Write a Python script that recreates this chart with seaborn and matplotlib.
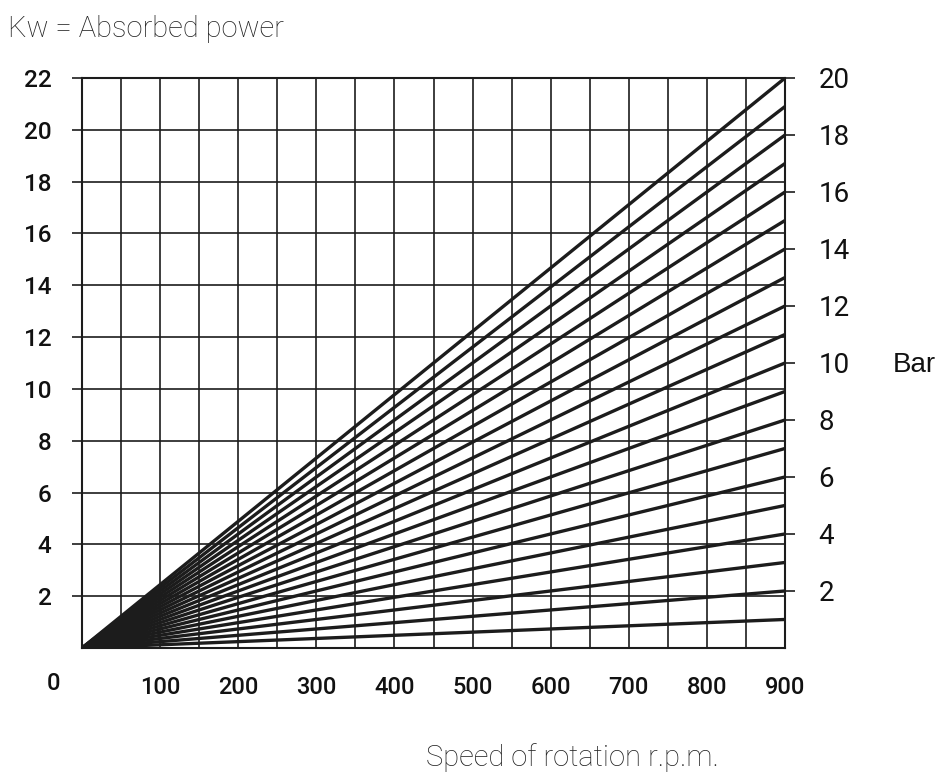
import pandas as pd
import matplotlib.pyplot as plt
import seaborn as sns

sns.set_style("white")
plt.rcParams['font.family'] = ['Roboto', 'Liberation Sans', 'DejaVu Sans']

# Data
rpm_range = [0, 900]
bar_levels = [1, 2, 3, 4, 5, 6, 7, 8, 9, 10, 11, 12, 13, 14, 15, 16, 17, 18, 19, 20]
kw_at_900 = [1.1, 2.2, 3.3, 4.4, 5.5, 6.6, 7.7, 8.8, 9.9, 11.0,
             12.1, 13.2, 14.3, 15.4, 16.5, 17.6, 18.7, 19.8, 20.9, 22.0]
kw_ticks = [2, 4, 6, 8, 10, 12, 14, 16, 18, 20, 22]
rpm_ticks = [100, 200, 300, 400, 500, 600, 700, 800, 900]
bar_labels = [2, 4, 6, 8, 10, 12, 14, 16, 18, 20]
bar_label_kw = [2.2, 4.4, 6.6, 8.8, 11.0, 13.2, 15.4, 17.6, 19.8, 22.0]

rows = []
for b, kw in zip(bar_levels, kw_at_900):
    rows.append({'bar': b, 'rpm': rpm_range[0], 'kw': 0.0})
    rows.append({'bar': b, 'rpm': rpm_range[1], 'kw': kw})
df = pd.DataFrame(rows)

ink = '#1c1c1c'
fig = plt.figure(figsize=(9.43, 7.76), dpi=100)
ax = fig.add_axes([0.087, 0.165, 0.7455, 0.7345])

sns.lineplot(data=df, x='rpm', y='kw', units='bar', estimator=None,
             color=ink, lw=2.4, ax=ax, legend=False)

ax.set_xlim(0, 900)
ax.set_ylim(0, 22)

# grid every 50 rpm and every 2 kW
ax.set_xticks(rpm_ticks)
ax.set_xticklabels([str(t) for t in rpm_ticks])
ax.set_xticks(range(50, 900, 100), minor=True)
ax.set_yticks(kw_ticks)
ax.set_yticklabels([str(t) for t in kw_ticks])
ax.grid(True, which='both', color=ink, lw=1.2)
ax.tick_params(axis='x', which='major', direction='out', length=7, width=1.2,
               color=ink, pad=13, labelsize=17, labelcolor='#111111')
ax.tick_params(axis='x', which='minor', length=0)
ax.tick_params(axis='y', which='major', direction='out', length=7, width=1.2,
               color=ink, pad=15, labelsize=17.5, labelcolor='#111111')
for lab in ax.get_xticklabels() + ax.get_yticklabels():
    lab.set_fontweight('medium')
for sp in ax.spines.values():
    sp.set_color(ink)
    sp.set_linewidth(1.5)
ax.set_xlabel('')
ax.set_ylabel('')

# right axis: pressure in bar at 900 rpm
ax2 = ax.twinx()
ax2.set_ylim(0, 22)
ax2.set_yticks(bar_label_kw)
ax2.set_yticklabels([str(b) for b in bar_labels])
ax2.tick_params(axis='y', direction='out', length=7, width=1.2, color=ink,
                pad=17, labelsize=20, labelcolor='#111111')
for sp in ax2.spines.values():
    sp.set_visible(False)

# '0' at the origin corner
ax.text(-0.041, -0.063, '0', transform=ax.transAxes, ha='center', va='center',
        fontsize=17, fontweight='medium', color='#111111')

light = ['Roboto', 'DejaVu Sans']
fig.text(0.008, 0.962, 'Kw = Absorbed power', ha='left', va='center',
         fontsize=21, fontweight='light', family=light, color='#222222')
fig.text(0.607, 0.024, 'Speed of rotation r.p.m.', ha='center', va='center',
         fontsize=21, fontweight='light', family=light, color='#222222')
fig.text(0.97, 0.529, 'Bar', ha='center', va='center',
         fontsize=20, family=['Liberation Sans'], color='#111111')

fig.savefig('out.png', dpi=100)
